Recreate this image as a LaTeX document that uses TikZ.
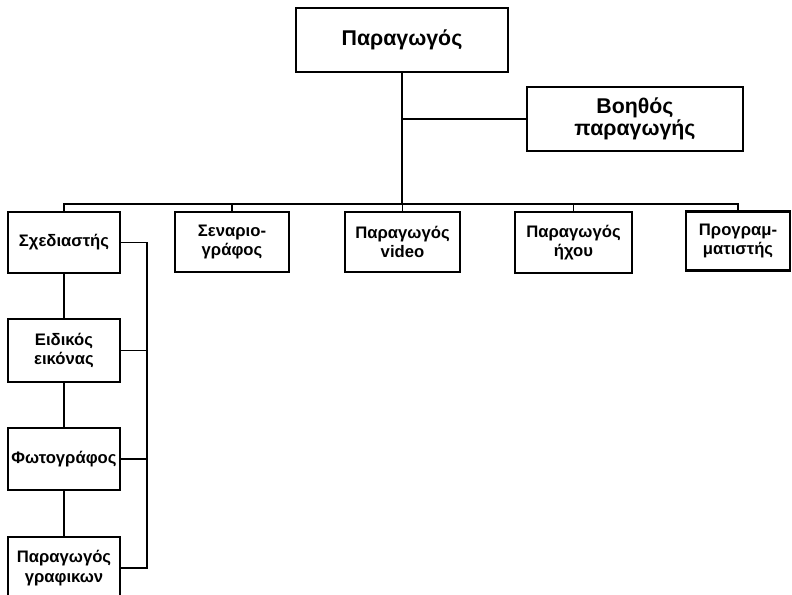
\documentclass[tikz,border=0pt]{standalone}
\usepackage{fontspec}
\setmainfont{Liberation Sans}
\begin{document}
\begin{tikzpicture}[x=0.75pt, y=-0.75pt,
	rolebox/.style={draw, line width=1.6pt, align=center, inner sep=0pt, font=\bfseries\fontsize{12.5}{14.5}\selectfont},
	bigrole/.style={rolebox, minimum height=48pt, font=\bfseries\fontsize{16}{17}\selectfont},
	link/.style={line width=1.2pt}]
	\clip (0,0) rectangle (792,595);
	\node[bigrole, minimum width=159pt] (prod) at (402,40) {Παραγωγός};
	\node[bigrole, minimum width=162pt] (asst) at (635,119) {Βοηθός\\παραγωγής};
	
	\node[rolebox, minimum width=84pt, minimum height=45.75pt] (design) at (64,242.5) {Σχεδιαστής};
	\node[rolebox, minimum width=85.5pt, minimum height=45pt] (script) at (232,242) {Σεναριο-\\γράφος};
	\node[rolebox, minimum width=86.25pt, minimum height=45pt] (video) at (402.5,242) {Παραγωγός\\video};
	\node[rolebox, minimum width=87.75pt, minimum height=45.75pt] (sound) at (573.5,242.5) {Παραγωγός\\ήχου};
	\node[rolebox, minimum width=78pt, minimum height=44.25pt] (prog) at (738,241) {Προγραμ-\\ματιστής};
	
	\node[rolebox, minimum width=84pt, minimum height=47.25pt] (image) at (64,350.5) {Ειδικός\\εικόνας};
	\node[rolebox, minimum width=84pt, minimum height=46.5pt] (photo) at (64,459) {Φωτογράφος};
	\node[rolebox, minimum width=84pt, minimum height=46.5pt] (graph) at (64,568) {Παραγωγός\\γραφικων};
	
	\coordinate (bus) at (402,204);
	\coordinate (rail) at (147,242);
	\draw[link] (prod.south) -- (bus);
	\draw[link] (prod.south |- asst.west) -- (asst.west);
	\draw[link] (design.north) -- (design.north |- bus) -- (prog.north |- bus) -- (prog.north);
	\foreach \n in {script,video,sound}
		\draw[link] (\n.north) -- (\n.north |- bus);
	
	\draw[link] (design) -- (image) -- (photo) -- (graph);
	\draw[link] (design.east) -- (design.east -| rail) -- (graph.east -| rail) -- (graph.east);
	\foreach \n in {image,photo}
		\draw[link] (\n.east) -- (\n.east -| rail);
\end{tikzpicture}
\end{document}
